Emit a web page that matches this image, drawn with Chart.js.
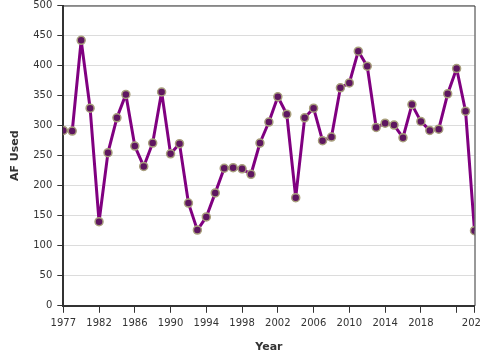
<!DOCTYPE html>
<html>
<head>
<meta charset="utf-8">
<script src="https://cdn.jsdelivr.net/npm/chart.js@4"></script>
<style>
  html, body { margin: 0; padding: 0; background: #fff; }
  #wrap { width: 480px; height: 360px; }
</style>
</head>
<body>
<div id="wrap"><canvas id="afChart" width="480" height="360"></canvas></div>
<script>
const years = [1977, 1978, 1979, 1980, 1981, 1982, 1983, 1984, 1985, 1986,
    1987, 1988, 1989, 1990, 1991, 1992, 1993, 1994, 1995, 1996,
    1997, 1998, 1999, 2000, 2001, 2002, 2003, 2004, 2005, 2006,
    2007, 2008, 2009, 2010, 2011, 2012, 2013, 2014, 2015, 2016,
    2017, 2018, 2019, 2020, 2021, 2022, 2023];
const afUsed = [292, 291, 442, 329, 140, 255, 313, 352, 266, 232,
    271, 356, 253, 270, 171, 126, 148, 188, 229, 230,
    228, 219, 271, 306, 348, 319, 180, 313, 329, 275,
    281, 363, 371, 424, 399, 297, 304, 301, 280, 335,
    307, 292, 294, 353, 395, 324, 125];

// where the x ticks sit, and what they say
const xTickAt = [1977, 1981, 1985, 1989, 1993, 1997, 2001, 2005, 2009, 2013, 2017, 2021, 2023];
const xTickLabels = ['1977', '1982', '1986', '1990', '1994', '1998', '2002', '2006', '2010', '2014', '2018', '', '2023'];

const frame = {
    id: 'frame',
    afterDraw(chart) {
        const { ctx, chartArea: a } = chart;
        ctx.save();
        ctx.strokeStyle = '#333';
        ctx.lineWidth = 1;
        ctx.beginPath();
        ctx.moveTo(a.left, a.top + 0.5);
        ctx.lineTo(a.right + 0.5, a.top + 0.5);
        ctx.lineTo(a.right + 0.5, a.bottom);
        ctx.stroke();
        ctx.restore();
    }
};

Chart.defaults.font.family = '"DejaVu Sans", Verdana, sans-serif';
Chart.defaults.color = '#333';

new Chart(document.getElementById('afChart'), {
    type: 'line',
    data: {
        datasets: [{
            data: years.map((y, i) => ({ x: y, y: afUsed[i] })),
            borderColor: '#800080',
            borderWidth: 3,
            borderJoinStyle: 'round',
            tension: 0,
            pointRadius: 4,
            pointBorderWidth: 1.5,
            pointBackgroundColor: '#5e1660',
            pointBorderColor: '#a89f7c'
        }]
    },
    options: {
        responsive: false,
        animation: false,
        layout: { padding: { top: 0, right: 4, bottom: 6, left: 9 } },
        plugins: {
            legend: { display: false },
            tooltip: { enabled: false }
        },
        scales: {
            x: {
                type: 'linear',
                min: 1977,
                max: 2023,
                afterBuildTicks: (scale) => {
                    scale.ticks = xTickAt.map(v => ({ value: v }));
                },
                afterFit: (scale) => {
                    scale.paddingLeft = 0;
                    scale.paddingRight = 0;
                },
                ticks: {
                    autoSkip: false,
                    maxRotation: 0,
                    padding: 5,
                    font: { size: 10 },
                    callback: (v) => xTickLabels[xTickAt.indexOf(v)]
                },
                grid: {
                    drawOnChartArea: false,
                    drawTicks: true,
                    tickLength: 7,
                    tickColor: '#333'
                },
                border: { color: '#333', width: 2 },
                title: {
                    display: true,
                    text: 'Year',
                    font: { size: 11, weight: 'bold' },
                    padding: { top: 6, bottom: 0 }
                }
            },
            y: {
                min: 0,
                max: 500,
                afterFit: (scale) => {
                    scale.paddingTop = 5;
                },
                ticks: {
                    stepSize: 50,
                    padding: 5,
                    font: { size: 10 }
                },
                grid: {
                    color: '#dcdcdc',
                    tickColor: '#333',
                    tickLength: 6
                },
                border: { color: '#333', width: 2 },
                title: {
                    display: true,
                    text: 'AF Used',
                    font: { size: 11, weight: 'bold' },
                    padding: { top: 0, bottom: 6 }
                }
            }
        }
    },
    plugins: [frame]
});
</script>
</body>
</html>
